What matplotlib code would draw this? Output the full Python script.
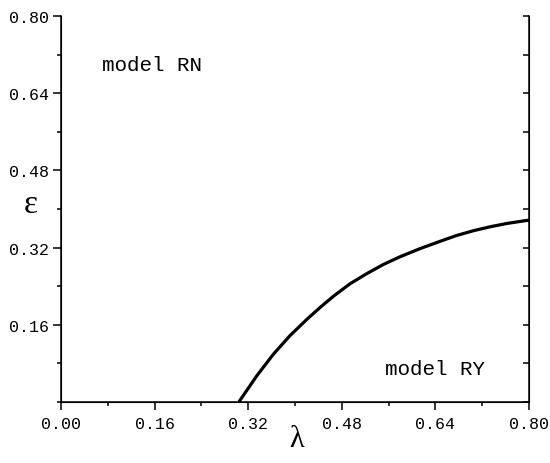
import matplotlib
matplotlib.use('Agg')
import matplotlib.pyplot as plt
import matplotlib.ticker as mticker

# boundary between model RN and model RY
lam = [0.304, 0.3345, 0.363, 0.391, 0.420, 0.443, 0.4655, 0.494, 0.5226,
       0.551, 0.5795, 0.614, 0.648, 0.676, 0.705, 0.733, 0.762, 0.80]
eps = [0.0, 0.054, 0.099, 0.137, 0.171, 0.196, 0.219, 0.245, 0.266,
       0.285, 0.301, 0.318, 0.333, 0.345, 0.355, 0.363, 0.370, 0.377]

xticks = [0.00, 0.16, 0.32, 0.48, 0.64, 0.80]
yticks = [0.16, 0.32, 0.48, 0.64, 0.80]

plt.rcParams['font.family'] = ['Liberation Mono', 'DejaVu Sans Mono']

fig = plt.figure(figsize=(5.5, 4.64), dpi=100)
ax = fig.add_axes([61 / 550, 1 - 403 / 464, 468 / 550, 386 / 464])

ax.plot(lam, eps, color='black', lw=2.3, solid_capstyle='butt',
        solid_joinstyle='round')
ax.set_xlim(0, 0.8)
ax.set_ylim(0, 0.8)

ax.set_xticks(xticks)
ax.set_yticks(yticks)
ax.xaxis.set_major_formatter(mticker.FormatStrFormatter('%.2f'))
ax.yaxis.set_major_formatter(mticker.FormatStrFormatter('%.2f'))
ax.xaxis.set_minor_locator(mticker.MultipleLocator(0.08))
ax.yaxis.set_minor_locator(mticker.MultipleLocator(0.08))
ax.tick_params(which='major', direction='out', length=6, width=1.1,
               labelsize=12)
ax.tick_params(axis='x', which='major', pad=4)
ax.tick_params(axis='y', which='major', pad=3)
ax.tick_params(which='minor', direction='out', length=3, width=1.1)

ax.spines['top'].set_visible(False)
for s in ['left', 'bottom', 'right']:
    ax.spines[s].set_linewidth(1.1)

ax2 = ax.twinx()
ax2.set_ylim(0, 0.8)
ax2.yaxis.set_major_locator(mticker.MultipleLocator(0.16))
ax2.yaxis.set_minor_locator(mticker.MultipleLocator(0.08))
ax2.tick_params(which='both', direction='in', length=4, width=1.1,
                labelright=False)
ax2.spines['top'].set_visible(False)

fig.text(297 / 550, 1 - 440 / 464, 'λ', fontsize=22, family='Liberation Serif',
         ha='center', va='center')
fig.text(31 / 550, 1 - 205 / 464, 'ε', fontsize=24, family='Liberation Serif',
         ha='center', va='center')

ax.text(0.07, 0.70, 'model RN', fontsize=15, va='center')
ax.text(0.553, 0.07, 'model RY', fontsize=15, va='center')

fig.savefig('out.png', dpi=100)
